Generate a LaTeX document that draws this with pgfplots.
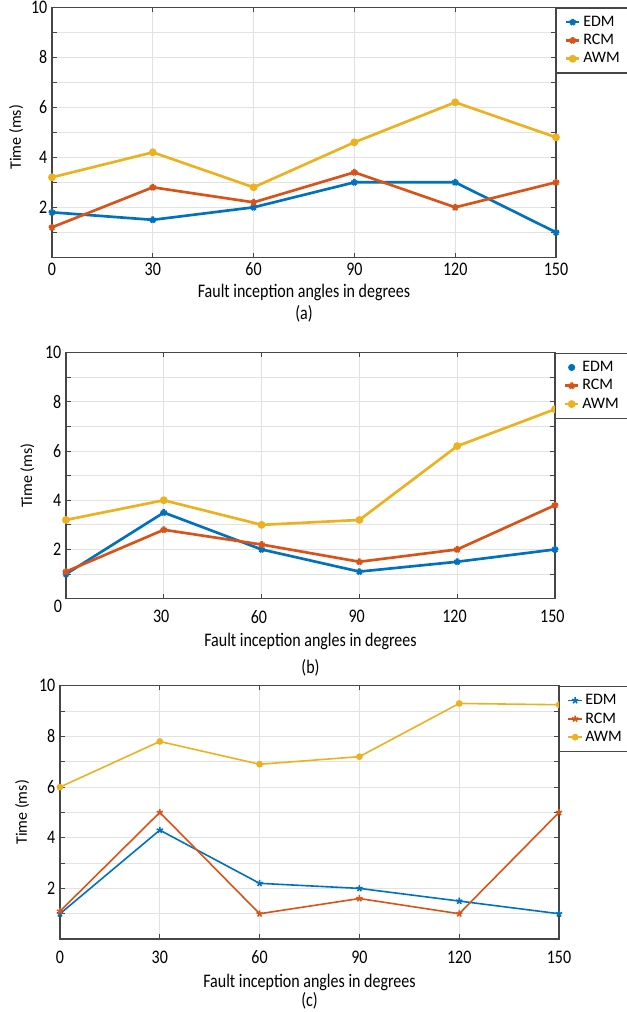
\documentclass[border=0pt]{standalone}
\usepackage{fontspec}
\setmainfont{Carlito}
\usepackage{pgfplots}
\pgfplotsset{compat=1.18}
\definecolor{cEDM}{RGB}{0,114,189}
\definecolor{cRCM}{RGB}{217,83,25}
\definecolor{cAWM}{RGB}{237,177,32}
\definecolor{framec}{RGB}{70,70,70}
\definecolor{gridc}{RGB}{226,226,226}
\newcommand{\fsz}{\fontsize{12}{14}\selectfont}
\pgfplotsset{
  myaxis/.style={
    scale only axis,
    xmin=0, xmax=150, ymin=0, ymax=10,
    xtick={0,30,...,150},
    ytick={2,4,...,10},
    minor ytick={1,3,5,7,9},
    grid=both,
    major grid style={gridc, line width=0.6pt},
    minor grid style={gridc, line width=0.6pt},
    axis line style={framec, line width=1pt},
    tick style={framec, line width=0.6pt},
    tick align=inside,
    major tick length=3.5pt, minor tick length=3.5pt,
    /pgf/number format/assume math mode=true,
    tick label style={font=\fsz, yscale=1.2},
    label style={font=\fsz},
    xlabel={Fault inception angles in degrees},
    ylabel={Time (ms)},
    xlabel style={at={(axis description cs:0.5,0)}, anchor=center, yscale=1.2},
    legend style={at={(1,1)}, anchor=north west, draw=framec, line width=1pt,
      fill=white, font=\fsz, inner xsep=6pt, inner ysep=4pt, row sep=0.5pt},
    legend cell align=left,
    legend image code/.code={\draw[mark repeat=2,mark phase=2,#1] plot coordinates {(0pt,0pt) (5pt,0pt) (10pt,0pt)};},
  },
  sEDM/.style={cEDM, mark=star, mark size=2.5pt, mark options={solid}},
  sRCM/.style={cRCM, mark=star, mark size=2.5pt, mark options={solid}},
  sAWM/.style={cAWM, mark=*, mark size=1.9pt, mark options={solid}},
}
\begin{document}
\begin{tikzpicture}
% ---------------- (a)
\begin{axis}[myaxis, name=A,
  at={(39pt,753.5pt)}, anchor=north west,
  width=378pt, height=187.5pt,
  xlabel style={yshift=-21.9pt},
  ylabel style={at={(axis description cs:-0.0714,0.48)}, anchor=center},
]
\addplot[sEDM, line width=2pt] coordinates {(0,1.8) (30,1.5) (60,2.0) (90,3.0) (120,3.0) (150,1.0)};
\addlegendentry{EDM}
\addplot[sRCM, line width=2pt] coordinates {(0,1.2) (30,2.8) (60,2.2) (90,3.4) (120,2.0) (150,3.0)};
\addlegendentry{RCM}
\addplot[sAWM, line width=2pt] coordinates {(0,3.2) (30,4.2) (60,2.8) (90,4.6) (120,6.2) (150,4.8)};
\addlegendentry{AWM}
\end{axis}
\node[font=\fsz, yscale=1.2] at ([yshift=-42pt]A.south) {(a)};
% ---------------- (b)
\begin{axis}[myaxis, name=B,
  at={(49.5pt,494.5pt)}, anchor=north west,
  width=366.75pt, height=184.5pt,
  xtick={30,60,...,150},
  xticklabel style={yshift=-3.75pt, xshift=-2pt},
  xlabel style={yshift=-26.9pt},
  ylabel style={at={(axis description cs:-0.079,0.5)}, anchor=center},
]
\addplot[sEDM, line width=2pt, legend image code/.code={\fill[cEDM] (5pt,0pt) circle (1.6pt);}] coordinates {(0,1.0) (30,3.5) (60,2.0) (90,1.1) (120,1.5) (150,2.0)};
\addlegendentry{EDM}
\addplot[sRCM, line width=2pt] coordinates {(0,1.1) (30,2.8) (60,2.2) (90,1.5) (120,2.0) (150,3.8)};
\addlegendentry{RCM}
\addplot[sAWM, line width=2pt] coordinates {(0,3.2) (30,4.0) (60,3.0) (90,3.2) (120,6.2) (150,7.7)};
\addlegendentry{AWM}
\end{axis}
\node[font=\fsz, yscale=1.2] at ([xshift=-6pt,yshift=-6pt]B.south west) {0};
\node[font=\fsz, yscale=1.2] at ([yshift=-52pt]B.south) {(b)};
% ---------------- (c)
\begin{axis}[myaxis, name=C,
  at={(45pt,244.7pt)}, anchor=north west,
  width=374.25pt, height=190pt,
  xticklabel style={yshift=-3.75pt},
  xlabel style={yshift=-26.9pt},
  ylabel style={at={(axis description cs:-0.076,0.5)}, anchor=center},
]
\addplot[sEDM, line width=1.2pt] coordinates {(0,1.0) (30,4.3) (60,2.2) (90,2.0) (120,1.5) (150,1.0)};
\addlegendentry{EDM}
\addplot[sRCM, line width=1.2pt] coordinates {(0,1.1) (30,5.0) (60,1.0) (90,1.6) (120,1.0) (150,5.0)};
\addlegendentry{RCM}
\addplot[sAWM, line width=1.2pt] coordinates {(0,6.0) (30,7.8) (60,6.9) (90,7.2) (120,9.3) (150,9.25)};
\addlegendentry{AWM}
\end{axis}
\node[font=\fsz, yscale=1.2] at ([yshift=-46pt]C.south) {(c)};
\pgfresetboundingbox
\path[use as bounding box] (0pt,0pt) rectangle (469.5pt,759pt);
\end{tikzpicture}
\end{document}
